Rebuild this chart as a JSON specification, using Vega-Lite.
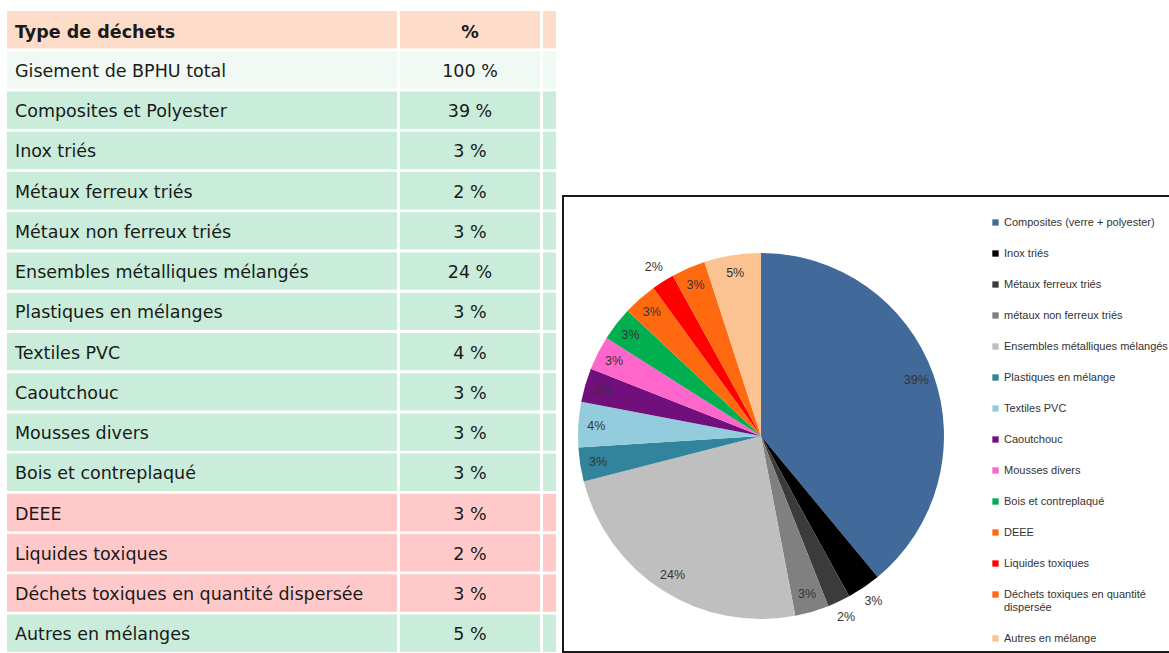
{
  "$schema": "https://vega.github.io/schema/vega-lite/v6.json",
  "padding": {"left": 7, "top": 11, "right": 0, "bottom": 0},
  "background": "white",
  "config": {"view": {"stroke": null}},
  "spacing": 4,
  "resolve": {"scale": {"color": "independent"}, "legend": {"color": "independent"}},
  "datasets": {
    "table": [
      {"type": "Type de déchets", "group": "header"},
      {"type": "Gisement de BPHU total", "share": 100, "group": "total"},
      {"type": "Composites et Polyester", "share": 39, "group": "green"},
      {"type": "Inox triés", "share": 3, "group": "green"},
      {"type": "Métaux ferreux triés", "share": 2, "group": "green"},
      {"type": "Métaux non ferreux triés", "share": 3, "group": "green"},
      {"type": "Ensembles métalliques mélangés", "share": 24, "group": "green"},
      {"type": "Plastiques en mélanges", "share": 3, "group": "green"},
      {"type": "Textiles PVC", "share": 4, "group": "green"},
      {"type": "Caoutchouc", "share": 3, "group": "green"},
      {"type": "Mousses divers", "share": 3, "group": "green"},
      {"type": "Bois et contreplaqué", "share": 3, "group": "green"},
      {"type": "DEEE", "share": 3, "group": "pink"},
      {"type": "Liquides toxiques", "share": 2, "group": "pink"},
      {"type": "Déchets toxiques en quantité dispersée", "share": 3, "group": "pink"},
      {"type": "Autres en mélanges", "share": 5, "group": "green"}
    ],
    "pie": [
      {"legend": "Composites (verre + polyester)", "share": 39},
      {"legend": "Inox triés", "share": 3},
      {"legend": "Métaux ferreux triés", "share": 2},
      {"legend": "métaux non ferreux triés", "share": 3},
      {"legend": "Ensembles métalliques mélangés", "share": 24},
      {"legend": "Plastiques en mélange", "share": 3},
      {"legend": "Textiles PVC", "share": 4},
      {"legend": "Caoutchouc", "share": 3},
      {"legend": "Mousses divers", "share": 3},
      {"legend": "Bois et contreplaqué", "share": 3},
      {"legend": "DEEE", "share": 3},
      {"legend": "Liquides toxiques", "share": 2},
      {"legend": "Déchets toxiques en quantité dispersée", "share": 3},
      {"legend": "Autres en mélange", "share": 5}
    ]
  },
  "hconcat": [
    {
      "width": 549,
      "height": 641,
      "data": {"name": "table"},
      "transform": [{"calculate": "datum.share + ' %'", "as": "pctLabel"}],
      "encoding": {
        "y": {
          "field": "type",
          "type": "nominal",
          "axis": null,
          "scale": {
            "domain": ["Type de déchets", "Gisement de BPHU total", "Composites et Polyester", "Inox triés", "Métaux ferreux triés", "Métaux non ferreux triés", "Ensembles métalliques mélangés", "Plastiques en mélanges", "Textiles PVC", "Caoutchouc", "Mousses divers", "Bois et contreplaqué", "DEEE", "Liquides toxiques", "Déchets toxiques en quantité dispersée", "Autres en mélanges"],
            "paddingInner": 0.07,
            "paddingOuter": 0
          }
        }
      },
      "layer": [
        {
          "mark": {"type": "rect"},
          "encoding": {
            "x": {"value": 0},
            "x2": {"value": 390},
            "color": {"field": "group", "type": "nominal", "legend": null,
              "scale": {"domain": ["header", "total", "green", "pink"], "range": ["#FDDDC9", "#F0F9F3", "#C9EDDA", "#FFC9C9"]}}
          }
        },
        {
          "mark": {"type": "rect"},
          "encoding": {
            "x": {"value": 393},
            "x2": {"value": 533},
            "color": {"field": "group", "type": "nominal", "legend": null}
          }
        },
        {
          "mark": {"type": "rect"},
          "encoding": {
            "x": {"value": 536},
            "x2": {"value": 549},
            "color": {"field": "group", "type": "nominal", "legend": null}
          }
        },
        {
          "transform": [{"filter": "datum.group != 'header'"}],
          "mark": {"type": "text", "align": "left", "baseline": "middle", "dy": 2, "font": "DejaVu Sans", "fontSize": 17.5, "fill": "#1a1a1a"},
          "encoding": {"x": {"value": 8}, "text": {"field": "type"}}
        },
        {
          "transform": [{"filter": "datum.group != 'header'"}],
          "mark": {"type": "text", "align": "center", "baseline": "middle", "dy": 2, "font": "DejaVu Sans", "fontSize": 17.5, "fill": "#1a1a1a"},
          "encoding": {"x": {"value": 463}, "text": {"field": "pctLabel"}}
        },
        {
          "transform": [{"filter": "datum.group == 'header'"}],
          "mark": {"type": "text", "align": "left", "baseline": "middle", "dy": 3, "font": "DejaVu Sans", "fontSize": 17.5, "fontWeight": "bold", "fill": "#1a1a1a"},
          "encoding": {"x": {"value": 8}, "text": {"field": "type"}}
        },
        {
          "transform": [{"filter": "datum.group == 'header'"}],
          "mark": {"type": "text", "align": "center", "baseline": "middle", "dy": 3, "font": "DejaVu Sans", "fontSize": 17.5, "fontWeight": "bold", "fill": "#1a1a1a"},
          "encoding": {"x": {"value": 463}, "text": {"value": "%"}}
        }
      ]
    },
    {
      "spacing": 0,
      "vconcat": [
        {
          "width": 1,
          "height": 184,
          "data": {"values": []},
          "mark": {"type": "text"},
          "encoding": {}
        },
        {
          "width": 612,
          "height": 456,
          "view": {"stroke": "#1a1a1a", "strokeWidth": 2},
          "data": {"name": "pie"},
          "transform": [
            {"window": [{"op": "row_number", "as": "idx"}]},
            {"calculate": "datum.share + '%'", "as": "label"}
          ],
          "encoding": {
            "theta": {"field": "share", "type": "quantitative", "stack": true},
            "order": {"field": "idx", "type": "quantitative"}
          },
          "layer": [
            {
              "mark": {"type": "arc", "radius": 183, "x": 198, "y": 240, "stroke": null},
              "encoding": {
                "color": {
                  "field": "legend",
                  "type": "nominal",
                  "scale": {
                    "domain": ["Composites (verre + polyester)", "Inox triés", "Métaux ferreux triés", "métaux non ferreux triés", "Ensembles métalliques mélangés", "Plastiques en mélange", "Textiles PVC", "Caoutchouc", "Mousses divers", "Bois et contreplaqué", "DEEE", "Liquides toxiques", "Déchets toxiques en quantité dispersée", "Autres en mélange"],
                    "range": ["#416A9B", "#000000", "#3B3B3B", "#808080", "#BFBFBF", "#31849B", "#93CDDD", "#71107D", "#FF66CC", "#00B050", "#FF6A10", "#FF0000", "#FF6A10", "#FBC292"]
                  },
                  "legend": {
                    "orient": "none",
                    "legendX": 427,
                    "legendY": 206,
                    "title": null,
                    "padding": 0,
                    "symbolType": "square",
                    "symbolSize": 40,
                    "symbolStrokeWidth": 0,
                    "labelFont": "Liberation Sans",
                    "labelFontSize": 11,
                    "labelColor": "#333333",
                    "labelLimit": 400,
                    "labelOffset": 3,
                    "rowPadding": 19,
                    "labelExpr": "datum.label == 'Déchets toxiques en quantité dispersée' ? ['Déchets toxiques en quantité', 'dispersée'] : datum.label"
                  }
                }
              }
            },
            {
              "mark": {"type": "text", "radius": 165, "x": 198, "y": 240, "font": "Liberation Sans", "fontSize": 12.5, "fill": "#333333"},
              "encoding": {
                "text": {
                  "condition": {"test": "indexof(['Inox triés', 'Métaux ferreux triés', 'Liquides toxiques'], datum.legend) >= 0", "value": ""},
                  "field": "label"
                }
              }
            },
            {
              "mark": {"type": "text", "radius": 200, "x": 198, "y": 240, "font": "Liberation Sans", "fontSize": 12.5, "fill": "#333333"},
              "encoding": {
                "text": {
                  "condition": {"test": "indexof(['Inox triés', 'Métaux ferreux triés', 'Liquides toxiques'], datum.legend) < 0", "value": ""},
                  "field": "label"
                }
              }
            }
          ]
        }
      ]
    }
  ]
}
